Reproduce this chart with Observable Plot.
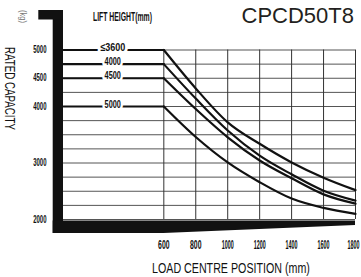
<!DOCTYPE html>
<html><head><meta charset="utf-8">
<script src="https://cdn.jsdelivr.net/npm/d3@7"></script>
<script src="https://cdn.jsdelivr.net/npm/@observablehq/plot@0.6"></script>
<style>body{margin:0;background:#fff}#chart svg{display:block}</style>
</head><body><div id="chart"></div>
<script>
// ---- data ----
const title = "CPCD50T8";
const loadCentres = [600, 800, 1000, 1200, 1400, 1600, 1800];   // mm
const liftHeights = ["≤3600", "4000", "4500", "5000"];            // mm
const cap3600 = [5000, 4320, 3720, 3340, 3010, 2740, 2520];       // kg
const cap4000 = [4750, 4140, 3575, 3130, 2800, 2510, 2335];
const cap4500 = [4500, 3955, 3455, 3045, 2730, 2445, 2280];
const cap5000 = [4000, 3460, 3010, 2660, 2370, 2205, 2100];
const xStart = -28;                                                // load centre at the chart's left edge
const xTicks = [600, 800, 1000, 1200, 1400, 1600, 1800];
const yTicks = [2000, 3000, 4000, 4500, 5000];
const yGrid = d3.range(2000, 5001, 250);
const labelAt = 280;                                               // mm, where the lift-height labels sit

// ---- tables built from the arrays ----
const series = [cap3600, cap4000, cap4500, cap5000];
const curveRows = [], flatRows = [], labelRows = [];
series.forEach((vals, i) => {
  const lift = liftHeights[i];
  flatRows.push({lift, x: xStart, y: vals[0]}, {lift, x: loadCentres[0], y: vals[0]});
  loadCentres.forEach((x, j) => curveRows.push({lift, x, y: vals[j]}));
  labelRows.push({lift, x: labelAt, y: vals[0]});
});

const W = 361, H = 277;
const FONT = "'Liberation Sans', Arial, sans-serif";
const chart = Plot.plot({
  width: W, height: H,
  marginLeft: 63, marginRight: 6, marginTop: 49.5, marginBottom: 58,
  style: {fontFamily: FONT, color: "#111", background: "#fff"},
  x: {domain: [xStart, 1800]},
  y: {domain: [2000, 5000]},
  marks: [
    Plot.ruleY(yGrid, {stroke: "#555", strokeWidth: 1}),
    Plot.ruleX(xTicks, {y1: 2000, y2: 5000, stroke: "#333", strokeWidth: 1}),
    Plot.line(flatRows, {x: "x", y: "y", z: "lift", stroke: "#111", strokeWidth: 2.2}),
    Plot.line(curveRows, {x: "x", y: "y", z: "lift", stroke: "#111", strokeWidth: 2.2, curve: "monotone-x"}),
    Plot.text(labelRows, {x: "x", y: "y", text: "lift", lineAnchor: "bottom", dy: 1,
      fontSize: 11, fontWeight: "bold", fill: "#111", stroke: "white", strokeWidth: 7}),
    Plot.axisX(xTicks, {tickSize: 0, tickPadding: 21, tickFormat: "d", fontSize: 12, fontWeight: "bold", label: null}),
    Plot.axisY(yTicks, {tickSize: 0, tickPadding: 17, tickFormat: "d", fontSize: 10, fontWeight: "bold", label: null})
  ]
});
document.getElementById("chart").append(chart);

// ---- compress the condensed texts horizontally (keeps their anchor point) ----
function compress(node, target, shift = 0) {
  const nat = node.getComputedTextLength();
  const k = target / nat;
  const x = parseFloat(node.getAttribute("x")) || 0;
  node.removeAttribute("x");
  const tr = node.getAttribute("transform") || "";
  node.setAttribute("transform", `${tr} translate(${x + shift},0) scale(${k},1)`);
}
chart.querySelectorAll('g[aria-label="x-axis tick label"] text')
  .forEach(n => compress(n, n.textContent.length === 3 ? 11.5 : 12, n.textContent === "1800" ? -2 : 0));
chart.querySelectorAll('g[aria-label="y-axis tick label"] text').forEach(n => compress(n, 13.3));
chart.querySelectorAll('g[aria-label="text"] text')
  .forEach(n => compress(n, n.textContent.length === 5 ? 25 : 16.3));

// ---- decorations and titles ----
const svg = d3.select(chart);
const sx = chart.scale("x"), sy = chart.scale("y");
const L = sx.apply(xStart), R = sx.apply(1800), B = sy.apply(2000), X6 = sx.apply(600);
const deco = svg.insert("g", ":first-child").attr("fill", "#111");
deco.append("rect").attr("x", L - 10.3).attr("y", 10).attr("width", 10.3).attr("height", B + 14 - 10);
deco.append("rect").attr("x", L - 24.7).attr("y", 10).attr("width", 24.7).attr("height", 9.5);
deco.append("path").attr("d", `M${L - 10.3},${B + 1.5}H${R}V${B + 6}L${X6},${B + 14}H${L - 10.3}Z`);

const t = svg.append("g").attr("font-family", FONT).attr("fill", "#111").attr("text-anchor", "start");
t.append("text").text(title).attr("x", 354).attr("y", 23).attr("text-anchor", "end")
  .attr("font-size", 22).attr("fill", "#231f20");
const lift = t.append("text").text("LIFT HEIGHT(mm)").attr("transform", "translate(0,20.5)")
  .attr("x", 93).attr("font-size", 12).attr("font-weight", "bold");
compress(lift.node(), 59);
const rated = t.append("text").text("RATED CAPACITY").attr("transform", "translate(5,47) rotate(90)")
  .attr("font-size", 14);
compress(rated.node(), 83);
const kg = t.append("text").text("(kg)").attr("transform", "translate(20,10) rotate(90)").attr("fill", "#777")
  .attr("font-size", 9);
compress(kg.node(), 13);
const xl = t.append("text").text("LOAD CENTRE POSITION (mm)").attr("transform", "translate(0,273)")
  .attr("x", 152).attr("font-size", 15);
compress(xl.node(), 158);
</script>
</body></html>
